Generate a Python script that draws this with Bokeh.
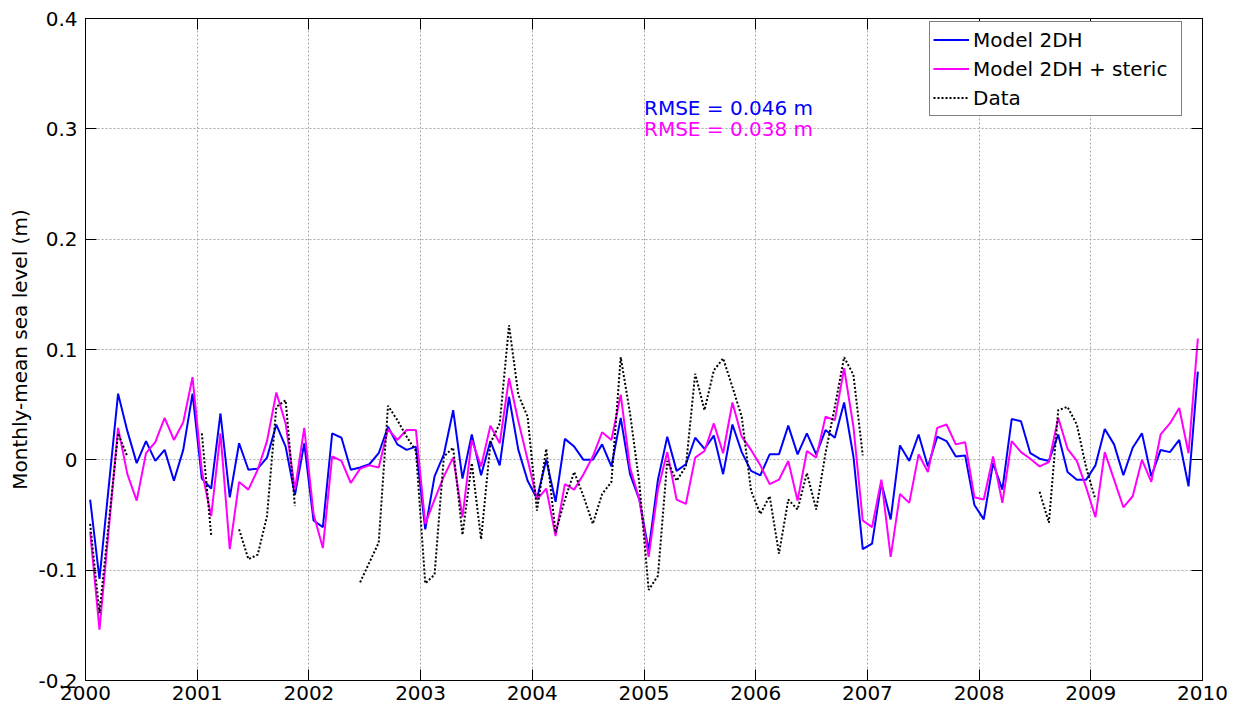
import math
from bokeh.plotting import figure
from bokeh.models import LinearAxis, FixedTicker, Legend, LegendItem, ColumnDataSource
from bokeh.embed import file_html
from bokeh.resources import INLINE
from bokeh.core.properties import value

NaN = float("nan")

# ---- data (monthly values, Jan 2000 .. Dec 2009) ----
months = list(range(120))

model_2dh = [
    -0.036, -0.108, -0.024, 0.060, 0.026, -0.003, 0.017, -0.001, 0.009, -0.019, 0.009, 0.060,
    -0.017, -0.026, 0.042, -0.034, 0.015, -0.009, -0.008, 0.002, 0.032, 0.012, -0.032, 0.015,
    -0.055, -0.061, 0.024, 0.020, -0.009, -0.007, -0.004, 0.006, 0.030, 0.014, 0.009, 0.012,
    -0.063, -0.015, 0.005, 0.045, -0.017, 0.023, -0.014, 0.017, -0.005, 0.057, 0.009, -0.019,
    -0.035, 0.000, -0.038, 0.019, 0.012, 0.000, 0.000, 0.014, -0.006, 0.038, -0.013, -0.036,
    -0.082, -0.018, 0.021, -0.010, -0.004, 0.020, 0.010, 0.022, -0.013, 0.032, 0.007, -0.010,
    -0.014, 0.005, 0.005, 0.031, 0.005, 0.024, 0.005, 0.027, 0.020, 0.052, 0.003, -0.081,
    -0.076, -0.021, -0.054, 0.013, -0.001, 0.023, -0.006, 0.021, 0.017, 0.003, 0.004, -0.041,
    -0.054, -0.003, -0.027, 0.037, 0.035, 0.006, 0.001, -0.001, 0.023, -0.011, -0.018, -0.018,
    -0.005, 0.028, 0.014, -0.014, 0.011, 0.024, -0.015, 0.009, 0.007, 0.018, -0.024, 0.080,
]

model_2dh_steric = [
    -0.065, -0.154, -0.063, 0.029, -0.013, -0.037, 0.006, 0.016, 0.038, 0.018, 0.034, 0.075,
    -0.010, -0.051, 0.024, -0.081, -0.020, -0.027, -0.009, 0.017, 0.061, 0.033, -0.027, 0.029,
    -0.049, -0.080, 0.003, -0.001, -0.021, -0.008, -0.005, -0.007, 0.028, 0.018, 0.027, 0.027,
    -0.058, -0.036, -0.015, 0.002, -0.052, 0.018, -0.006, 0.031, 0.015, 0.074, 0.035, 0.000,
    -0.036, -0.026, -0.069, -0.022, -0.027, -0.013, 0.003, 0.025, 0.018, 0.059, -0.007, -0.036,
    -0.088, -0.027, 0.007, -0.036, -0.040, 0.002, 0.008, 0.033, 0.006, 0.052, 0.021, 0.009,
    -0.005, -0.022, -0.018, -0.001, -0.037, 0.008, 0.002, 0.039, 0.036, 0.083, 0.030, -0.055,
    -0.061, -0.018, -0.088, -0.031, -0.039, 0.005, -0.011, 0.029, 0.032, 0.014, 0.016, -0.034,
    -0.036, 0.003, -0.039, 0.017, 0.007, 0.001, -0.006, -0.002, 0.038, 0.010, -0.001, -0.025,
    -0.052, 0.007, -0.018, -0.043, -0.033, 0.000, -0.020, 0.023, 0.033, 0.047, 0.006, 0.110,
]

data_obs = [
    -0.058, -0.139, -0.057, 0.024, 0.003, NaN, NaN, NaN, NaN, NaN, NaN, NaN,
    0.024, -0.068, NaN, NaN, -0.063, -0.090, -0.086, -0.051, 0.048, 0.054, -0.042, NaN,
    NaN, NaN, NaN, NaN, NaN, -0.111, -0.093, -0.075, 0.049, 0.036, 0.021, 0.008,
    -0.112, -0.104, 0.003, 0.011, -0.068, -0.003, -0.072, 0.015, 0.033, 0.122, 0.059, 0.039,
    -0.046, 0.010, -0.066, -0.036, -0.011, -0.033, -0.058, -0.031, -0.020, 0.093, 0.042, -0.021,
    -0.118, -0.105, -0.001, -0.019, -0.006, 0.078, 0.045, 0.081, 0.092, 0.066, 0.039, -0.028,
    -0.049, -0.033, -0.085, -0.036, -0.045, -0.012, -0.045, 0.006, 0.048, 0.093, 0.077, 0.004,
    NaN, NaN, NaN, NaN, NaN, NaN, NaN, NaN, NaN, NaN, NaN, NaN,
    NaN, NaN, NaN, NaN, NaN, NaN, -0.029, -0.057, 0.045, 0.048, 0.032, -0.007,
    -0.036, NaN, NaN, NaN, NaN, NaN, NaN, NaN, NaN, NaN, NaN, NaN,
]

series_labels = ["Model 2DH", "Model 2DH + steric", "Data"]
x_ticks = [2000, 2001, 2002, 2003, 2004, 2005, 2006, 2007, 2008, 2009, 2010]
x_tick_labels = [str(v) for v in x_ticks]
y_ticks = [-0.2, -0.1, 0.0, 0.1, 0.2, 0.3, 0.4]
y_tick_labels = ["-0.2", "-0.1", "0", "0.1", "0.2", "0.3", "0.4"]
rmse_labels = ["RMSE = 0.046 m", "RMSE = 0.038 m"]

# ---- styling ----
FONT = "DejaVu Sans"
BLUE = "#0000ff"
MAGENTA = "#ff00ff"

t = [2000 + (m + 0.5) / 12.0 for m in months]

p = figure(width=1233, height=710, x_range=(2000, 2010), y_range=(-0.2, 0.4),
           output_backend="svg", toolbar_location=None,
           min_border_left=85, min_border_right=31, min_border_top=18, min_border_bottom=30)
p.background_fill_color = "white"
p.border_fill_color = "white"
p.outline_line_color = "black"
p.outline_line_width = 1

def style_axis(ax, ticks, labels, show_labels):
    ax.ticker = FixedTicker(ticks=ticks)
    ax.major_tick_in = 11
    ax.major_tick_out = 0
    ax.minor_tick_in = 0
    ax.minor_tick_out = 0
    ax.axis_line_color = "black"
    ax.major_tick_line_color = "black"
    ax.major_label_text_font = FONT
    ax.major_label_text_color = "black"
    if show_labels:
        ax.major_label_overrides = {tk: lb for tk, lb in zip(ticks, labels)}
        ax.major_label_text_font_size = "20px"
    else:
        ax.major_label_overrides = {tk: "" for tk in ticks}
        ax.major_label_text_font_size = "1px"
        ax.major_label_standoff = 0

style_axis(p.xaxis[0], x_ticks, x_tick_labels, True)
style_axis(p.yaxis[0], y_ticks, y_tick_labels, True)
p.xaxis[0].major_label_standoff = 5
p.yaxis[0].major_label_standoff = 8
p.yaxis[0].axis_label = "Monthly-mean sea level (m)"
p.yaxis[0].axis_label_text_font = FONT
p.yaxis[0].axis_label_text_font_size = "20px"
p.yaxis[0].axis_label_text_font_style = "normal"
p.yaxis[0].axis_label_text_color = "black"
p.yaxis[0].axis_label_standoff = 3

top_ax = LinearAxis()
style_axis(top_ax, x_ticks, x_tick_labels, False)
p.add_layout(top_ax, "above")
right_ax = LinearAxis()
style_axis(right_ax, y_ticks, y_tick_labels, False)
p.add_layout(right_ax, "right")

for g in (p.xgrid[0], p.ygrid[0]):
    g.grid_line_color = "#a8a8a8"
    g.grid_line_dash = "2 2"
    g.grid_line_width = 1
p.xgrid[0].ticker = FixedTicker(ticks=x_ticks)
p.ygrid[0].ticker = FixedTicker(ticks=y_ticks)

src = ColumnDataSource(dict(t=t, m=model_2dh, s=model_2dh_steric, d=data_obs))
r1 = p.line("t", "m", source=src, line_color=BLUE, line_width=2)
r2 = p.line("t", "s", source=src, line_color=MAGENTA, line_width=2)
r3 = p.line("t", "d", source=src, line_color="black", line_width=2, line_dash="2 2")

txt_src = ColumnDataSource(dict(x=[2005.0, 2005.0], y=[0.319, 0.2995],
                                text=rmse_labels, color=[BLUE, MAGENTA]))
p.text(x="x", y="y", text="text", text_color="color", source=txt_src,
       text_font=value(FONT), text_font_size="20px",
       text_baseline="middle", text_align="left")

legend = Legend(items=[LegendItem(label=series_labels[0], renderers=[r1]),
                       LegendItem(label=series_labels[1], renderers=[r2]),
                       LegendItem(label=series_labels[2], renderers=[r3])],
                location=(844, 564))
legend.label_text_font = FONT
legend.label_text_font_size = "20px"
legend.label_text_color = "black"
legend.glyph_width = 36
legend.glyph_height = 29
legend.label_height = 29
legend.label_width = 205
legend.label_standoff = 4
legend.padding = 3
legend.spacing = 0
legend.margin = 0
legend.border_line_color = "black"
legend.border_line_width = 1
legend.background_fill_color = "white"
legend.background_fill_alpha = 1.0
p.add_layout(legend)

open("out.html", "w").write(file_html(p, INLINE))
